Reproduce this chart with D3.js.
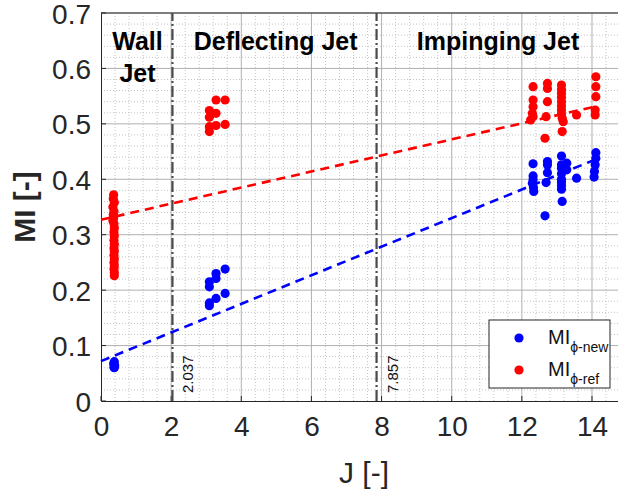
<!DOCTYPE html>
<html>
<head>
<meta charset="utf-8">
<script src="https://cdn.jsdelivr.net/npm/d3@7"></script>
<style>
  html, body { margin: 0; padding: 0; background: #fff; }
  svg { display: block; font-family: "Liberation Sans", Arial, Helvetica, sans-serif; }
</style>
</head>
<body>
<svg id="chart" width="618" height="495"></svg>
<script>
// Mixing index MI against momentum flux ratio J, two MI definitions.
const newJ = [
  0.38, 0.36, 0.39, 0.37, 0.38,
  3.54, 3.28, 3.28, 3.09, 3.09, 3.54, 3.28, 3.09, 3.09,
  12.32, 12.32, 12.32, 12.30, 12.33, 12.34,
  12.73, 12.73, 12.73, 12.69, 12.66,
  13.13, 13.13, 13.13, 13.13, 13.13, 13.13, 13.13, 13.13,
  13.28, 13.28, 13.15, 13.56,
  14.11, 14.11, 14.09, 14.07, 14.06
];
const newMI = [
  0.071, 0.067, 0.064, 0.061, 0.060,
  0.238, 0.230, 0.221, 0.215, 0.206, 0.194, 0.185, 0.177, 0.172,
  0.428, 0.406, 0.399, 0.393, 0.385, 0.378,
  0.432, 0.426, 0.412, 0.394, 0.334,
  0.442, 0.426, 0.420, 0.410, 0.400, 0.395, 0.389, 0.382,
  0.429, 0.417, 0.360, 0.402,
  0.448, 0.438, 0.426, 0.414, 0.404
];
const refJ = [
  0.36, 0.35, 0.38, 0.34, 0.37, 0.35, 0.36, 0.34, 0.37, 0.38, 0.37, 0.38,
  0.37, 0.38, 0.37, 0.38, 0.37, 0.38, 0.37, 0.38, 0.37, 0.38, 0.38,
  3.09, 3.09, 3.09, 3.09, 3.28, 3.28, 3.28, 3.54, 3.54,
  12.32, 12.32, 12.32, 12.30, 12.32, 12.25,
  12.73, 12.73, 12.73, 12.69, 12.66,
  13.13, 13.13, 13.13, 13.13, 13.13, 13.13, 13.13, 13.13,
  13.15, 13.18, 13.15, 13.56,
  14.11, 14.11, 14.11, 14.09, 14.09
];
const refMI = [
  0.372, 0.365, 0.358, 0.350, 0.342, 0.336, 0.330, 0.325, 0.320, 0.312, 0.305, 0.298,
  0.290, 0.283, 0.276, 0.270, 0.263, 0.256, 0.250, 0.244, 0.238, 0.232, 0.226,
  0.524, 0.512, 0.495, 0.486, 0.543, 0.519, 0.497, 0.543, 0.499,
  0.567, 0.543, 0.531, 0.519, 0.513, 0.507,
  0.573, 0.564, 0.540, 0.513, 0.474,
  0.570, 0.562, 0.555, 0.548, 0.540, 0.532, 0.525, 0.518,
  0.510, 0.504, 0.486, 0.516,
  0.585, 0.567, 0.549, 0.525, 0.516
];
// Linear fits: [intercept, slope] and the J range they span
const newFit = [0.072, 0.0258];
const refFit = [0.327, 0.0145];
const fitRange = [0, 14.11];

// Regime boundaries in J
const boundaries = [2.037, 7.857];
const regimeNames = ["Wall", "Jet", "Deflecting Jet", "Impinging Jet"];

const xTicks = [0, 2, 4, 6, 8, 10, 12, 14];
const yTicks = [0, 0.1, 0.2, 0.3, 0.4, 0.5, 0.6, 0.7];
const legendLabels = ["\u03D5-new", "\u03D5-ref"];

const svg = d3.select("#chart");
const margin = { left: 101, top: 13, bottom: 401 };
const x = d3.scaleLinear().domain([0, 14.75]).range([margin.left, 618.3]);
const y = d3.scaleLinear().domain([0, 0.7]).range([margin.bottom, margin.top]);

const plot = svg.append("g");

// minor grid
const xMinor = d3.range(0, 14.75, 0.4).filter(v => Math.abs(v / 2 - Math.round(v / 2)) > 1e-6);
const yMinor = d3.range(0, 0.7001, 0.02).filter(v => Math.abs(v * 10 - Math.round(v * 10)) > 1e-6);
plot.selectAll(".xminor").data(xMinor).join("line")
  .attr("x1", d => x(d)).attr("x2", d => x(d))
  .attr("y1", y(0)).attr("y2", y(0.7))
  .attr("stroke", "#c4c4c4").attr("stroke-width", 1).attr("stroke-dasharray", "1,2");
plot.selectAll(".yminor").data(yMinor).join("line")
  .attr("x1", x(0)).attr("x2", 618)
  .attr("y1", d => y(d)).attr("y2", d => y(d))
  .attr("stroke", "#c4c4c4").attr("stroke-width", 1).attr("stroke-dasharray", "1,2");

// major grid
plot.selectAll(".xmajor").data(xTicks.slice(1)).join("line")
  .attr("x1", d => x(d)).attr("x2", d => x(d))
  .attr("y1", y(0)).attr("y2", y(0.7))
  .attr("stroke", "#b0b0b0").attr("stroke-width", 1);
plot.selectAll(".ymajor").data(yTicks.slice(1)).join("line")
  .attr("x1", x(0)).attr("x2", 618)
  .attr("y1", d => y(d)).attr("y2", d => y(d))
  .attr("stroke", "#b0b0b0").attr("stroke-width", 1);

// axes box
const axisColor = "#262626";
const xAxis = d3.axisBottom(x).tickValues(xTicks).tickSize(0).tickPadding(15).tickFormat(d3.format("d"));
const yAxis = d3.axisLeft(y).tickValues(yTicks).tickSize(0).tickPadding(10).tickFormat(d => d === 0 ? "0" : d3.format(".1f")(d));
const gx = svg.append("g").attr("transform", `translate(0,${y(0)})`).call(xAxis);
const gy = svg.append("g").attr("transform", `translate(${x(0)},0)`).call(yAxis);
[gx, gy].forEach(g => {
  g.select(".domain").attr("stroke", axisColor).attr("stroke-width", 1);
  g.selectAll("text").attr("fill", axisColor).attr("font-size", 28)
    .attr("font-family", "'Liberation Sans', Arial, sans-serif");
});
gx.selectAll("text").attr("dy", "0.71em");
gy.selectAll("text").attr("dy", "0.36em");
svg.append("line").attr("x1", x(0)).attr("x2", 618).attr("y1", y(0.7)).attr("y2", y(0.7))
  .attr("stroke", axisColor).attr("stroke-width", 1);
// small inward major ticks
svg.selectAll(".xt").data(xTicks).join("line")
  .attr("x1", d => x(d)).attr("x2", d => x(d)).attr("y1", y(0)).attr("y2", y(0) - 5)
  .attr("stroke", axisColor);
svg.selectAll(".yt").data(yTicks).join("line")
  .attr("x1", x(0)).attr("x2", x(0) + 5).attr("y1", d => y(d)).attr("y2", d => y(d))
  .attr("stroke", axisColor);

// regime boundaries
svg.selectAll(".bound").data(boundaries).join("line")
  .attr("x1", d => x(d)).attr("x2", d => x(d))
  .attr("y1", y(0)).attr("y2", y(0.7))
  .attr("stroke", "#4a4a4a").attr("stroke-width", 2.2)
  .attr("stroke-dasharray", "11,3,2,3");
svg.selectAll(".boundLabel").data(boundaries).join("text")
  .attr("transform", d => `translate(${x(d) + 21},${y(0) - 8}) rotate(-90)`)
  .attr("font-size", 15).attr("fill", "#111")
  .text(d => d3.format(".3f")(d));

// regime names
const regimeText = svg.append("g").attr("font-weight", "bold").attr("font-size", 25)
  .attr("fill", "#000").attr("text-anchor", "middle");
regimeText.append("text").attr("x", x(1.04)).attr("y", 50).text(regimeNames[0]);
regimeText.append("text").attr("x", x(1.04)).attr("y", 82).text(regimeNames[1]);
regimeText.append("text").attr("x", x(4.98)).attr("y", 50).text(regimeNames[2]);
regimeText.append("text").attr("x", x(11.32)).attr("y", 50).text(regimeNames[3]);

// fit lines
const fits = [{ c: refFit, color: "#ff0000" }, { c: newFit, color: "#0000ff" }];
svg.selectAll(".fit").data(fits).join("line")
  .attr("x1", x(fitRange[0])).attr("x2", x(fitRange[1]))
  .attr("y1", d => y(d.c[0] + d.c[1] * fitRange[0]))
  .attr("y2", d => y(d.c[0] + d.c[1] * fitRange[1]))
  .attr("stroke", d => d.color).attr("stroke-width", 2.6)
  .attr("stroke-dasharray", "9,6");

// points
const newPts = newJ.map((j, i) => [j, newMI[i]]);
const refPts = refJ.map((j, i) => [j, refMI[i]]);
svg.append("g").selectAll("circle").data(newPts).join("circle")
  .attr("cx", d => x(d[0])).attr("cy", d => y(d[1])).attr("r", 4.6).attr("fill", "#0000ff");
svg.append("g").selectAll("circle").data(refPts).join("circle")
  .attr("cx", d => x(d[0])).attr("cy", d => y(d[1])).attr("r", 4.6).attr("fill", "#ff0000");

// x/y labels
svg.append("text").attr("x", 364).attr("y", 483).attr("text-anchor", "middle")
  .attr("font-size", 30).attr("fill", axisColor).text("J [-]");
svg.append("text").attr("transform", `translate(35,${(y(0) + y(0.7)) / 2}) rotate(-90)`)
  .attr("text-anchor", "middle").attr("font-size", 30).attr("font-weight", "bold")
  .attr("fill", axisColor).text("MI [-]");

// legend
const lg = svg.append("g").attr("transform", "translate(489,320)");
lg.append("rect").attr("width", 121).attr("height", 68)
  .attr("fill", "#fff").attr("stroke", "#262626").attr("stroke-width", 1);
const colors = ["#0000ff", "#ff0000"];
legendLabels.forEach((lab, i) => {
  const row = lg.append("g").attr("transform", `translate(0,${18 + i * 32})`);
  row.append("circle").attr("cx", 30).attr("cy", 0).attr("r", 4.6).attr("fill", colors[i]);
  const t = row.append("text").attr("x", 59).attr("y", 6).attr("font-size", 20).attr("fill", "#111");
  t.append("tspan").text("MI");
  t.append("tspan").attr("dy", 8).attr("font-size", 14).text(lab);
});
</script>
</body>
</html>
